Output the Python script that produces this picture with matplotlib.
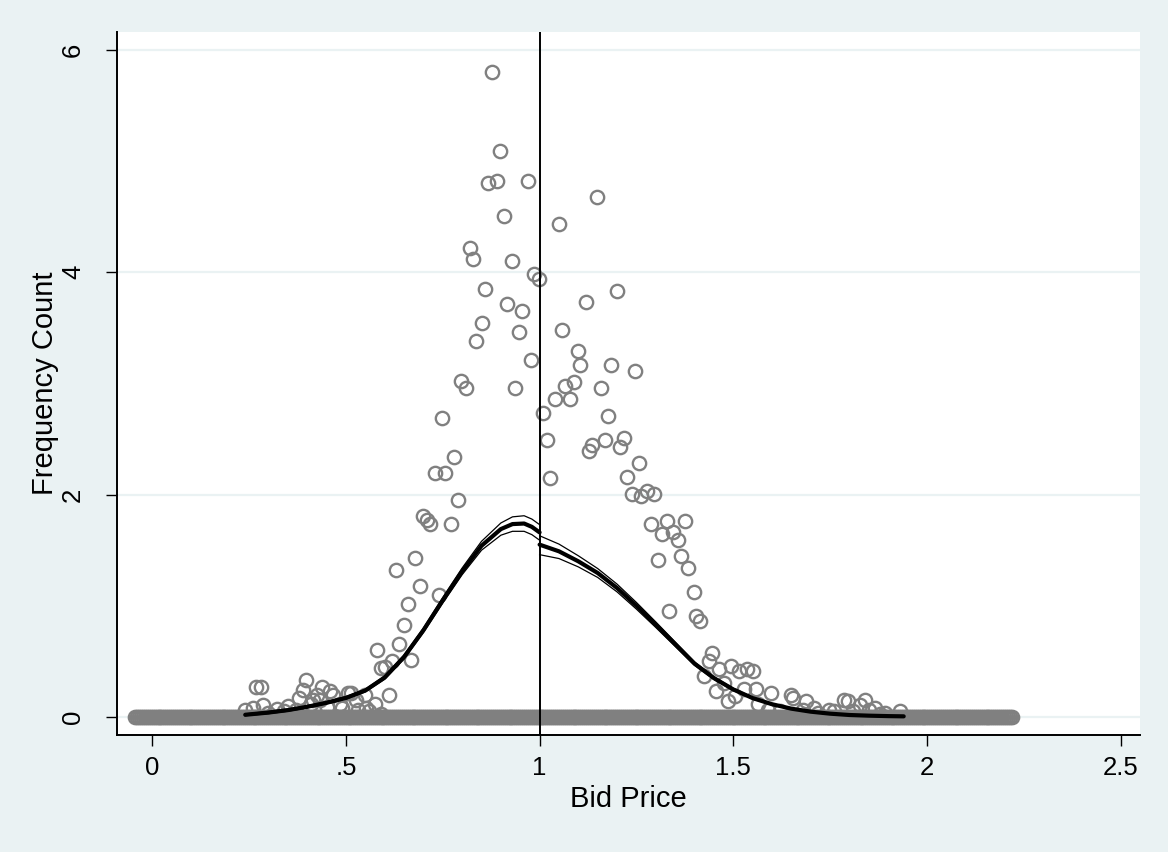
import numpy as np
import matplotlib
matplotlib.use("Agg")
from matplotlib import pyplot as plt

# frequency of bids per bin (non-empty bins)
bid_x = [
    0.876, 0.899, 0.866, 0.890, 0.969, 0.907, 0.819, 0.827, 0.929, 0.986,
    0.999, 0.859, 0.916, 0.954, 0.850, 0.947, 0.836, 0.978, 0.797, 0.810,
    0.937, 0.747, 0.778, 0.729, 0.757, 0.789, 0.699, 0.709, 0.718, 0.770,
    0.679, 0.628, 0.692, 0.740, 0.661, 0.650, 0.637, 0.580, 0.669, 0.620,
    0.590, 0.600, 0.611, 0.398, 0.269, 0.280, 0.287, 0.239, 0.261, 0.323,
    0.351, 0.379, 0.390, 0.415, 0.424, 0.437, 0.458, 0.467, 0.484, 0.505,
    0.512, 0.527, 0.548, 0.553, 0.574, 0.411, 0.433, 0.300, 0.340, 0.370,
    0.450, 0.490, 0.530, 0.560, 0.590,
    1.009, 1.018, 1.026, 1.039, 1.049, 1.057, 1.066, 1.079, 1.089, 1.098,
    1.105, 1.119, 1.128, 1.136, 1.147, 1.159, 1.169, 1.177, 1.185, 1.199,
    1.208, 1.217, 1.226, 1.239, 1.247, 1.256, 1.262, 1.278, 1.295, 1.288,
    1.328, 1.375, 1.317, 1.345, 1.358, 1.305, 1.366, 1.384, 1.398, 1.335,
    1.405, 1.415, 1.445, 1.437, 1.424, 1.462, 1.495, 1.514, 1.535, 1.550,
    1.477, 1.456, 1.486, 1.527, 1.558, 1.598, 1.505, 1.565, 1.649, 1.654,
    1.687, 1.708, 1.748, 1.787, 1.795, 1.841, 1.827, 1.866, 1.891, 1.930,
    1.590, 1.620, 1.680, 1.720, 1.760, 1.810, 1.850, 1.880,
]
bid_freq = [
    5.80, 5.09, 4.80, 4.82, 4.82, 4.51, 4.22, 4.12, 4.10, 3.98,
    3.94, 3.85, 3.71, 3.65, 3.54, 3.46, 3.38, 3.21, 3.02, 2.96,
    2.96, 2.69, 2.34, 2.19, 2.19, 1.95, 1.81, 1.77, 1.74, 1.74,
    1.43, 1.32, 1.18, 1.10, 1.02, 0.83, 0.66, 0.60, 0.51, 0.50,
    0.44, 0.45, 0.20, 0.33, 0.27, 0.27, 0.11, 0.06, 0.08, 0.07,
    0.10, 0.17, 0.24, 0.15, 0.20, 0.27, 0.23, 0.20, 0.12, 0.22,
    0.22, 0.15, 0.20, 0.08, 0.12, 0.12, 0.15, 0.04, 0.05, 0.06,
    0.09, 0.08, 0.06, 0.05, 0.03,
    2.73, 2.49, 2.15, 2.86, 4.43, 3.48, 2.98, 2.86, 3.01, 3.29,
    3.17, 3.73, 2.39, 2.45, 4.68, 2.96, 2.49, 2.71, 3.17, 3.83,
    2.43, 2.51, 2.16, 2.01, 3.11, 2.28, 1.99, 2.03, 2.01, 1.74,
    1.76, 1.76, 1.65, 1.66, 1.59, 1.41, 1.45, 1.34, 1.12, 0.95,
    0.91, 0.86, 0.58, 0.50, 0.37, 0.43, 0.46, 0.41, 0.43, 0.41,
    0.31, 0.23, 0.14, 0.25, 0.25, 0.22, 0.19, 0.12, 0.20, 0.17,
    0.14, 0.08, 0.06, 0.15, 0.14, 0.15, 0.11, 0.08, 0.04, 0.05,
    0.06, 0.05, 0.06, 0.04, 0.05, 0.05, 0.06, 0.03,
]

# empty bins lie on zero across the whole support
empty_lo, empty_hi, n_bins = -0.044, 2.219, 453

# fitted density left of the cutoff, with confidence band
left_x = [0.24, 0.30, 0.35, 0.40, 0.45, 0.50, 0.55, 0.60, 0.65, 0.70,
          0.75, 0.80, 0.85, 0.90, 0.93, 0.96, 0.98, 1.00]
left_fit = [0.020, 0.040, 0.062, 0.092, 0.128, 0.172, 0.238, 0.355, 0.540, 0.780,
            1.050, 1.310, 1.540, 1.690, 1.735, 1.740, 1.710, 1.660]
left_hi = [0.028, 0.050, 0.072, 0.102, 0.138, 0.183, 0.250, 0.370, 0.558, 0.800,
           1.075, 1.340, 1.580, 1.745, 1.800, 1.810, 1.780, 1.730]
left_lo = [0.012, 0.030, 0.052, 0.082, 0.118, 0.161, 0.226, 0.340, 0.522, 0.760,
           1.025, 1.280, 1.500, 1.635, 1.670, 1.670, 1.640, 1.590]

# fitted density right of the cutoff, with confidence band
right_x = [1.00, 1.05, 1.10, 1.15, 1.20, 1.25, 1.30, 1.35, 1.40, 1.45,
           1.50, 1.55, 1.60, 1.65, 1.70, 1.75, 1.80, 1.85, 1.90, 1.94]
right_fit = [1.550, 1.490, 1.400, 1.295, 1.160, 1.000, 0.830, 0.655, 0.480, 0.350,
             0.248, 0.170, 0.115, 0.075, 0.048, 0.030, 0.018, 0.012, 0.008, 0.006]
right_hi = [1.630, 1.555, 1.450, 1.335, 1.195, 1.030, 0.855, 0.675, 0.495, 0.362,
            0.258, 0.177, 0.121, 0.080, 0.052, 0.033, 0.021, 0.015, 0.011, 0.009]
right_lo = [1.460, 1.425, 1.350, 1.255, 1.125, 0.970, 0.805, 0.635, 0.465, 0.338,
            0.238, 0.163, 0.109, 0.070, 0.044, 0.027, 0.015, 0.009, 0.005, 0.003]

cutoff = 1.0
x_ticks = [0, 0.5, 1, 1.5, 2, 2.5]
x_tick_labels = ["0", ".5", "1", "1.5", "2", "2.5"]
y_ticks = [0, 2, 4, 6]
y_tick_labels = ["0", "2", "4", "6"]

bg = "#EAF2F3"
grey = "#808080"

plt.rcParams["font.family"] = ["Liberation Sans", "DejaVu Sans"]

fig = plt.figure(figsize=(11.68, 8.52), dpi=100, facecolor=bg)
ax = fig.add_axes([0.1002, 0.1373, 0.8758, 0.8251])
ax.set_facecolor("white")

empty_x = np.linspace(empty_lo, empty_hi, n_bins)
ax.plot(empty_x, np.zeros(n_bins), linestyle="none", marker="o", ms=9.6,
        mfc="none", mec=grey, mew=1.7, zorder=3)
ax.plot(bid_x, bid_freq, linestyle="none", marker="o", ms=9.6,
        mfc="none", mec=grey, mew=1.7, zorder=3)

for xs, fit, hi, lo in [(left_x, left_fit, left_hi, left_lo),
                        (right_x, right_fit, right_hi, right_lo)]:
    ax.plot(xs, hi, color="black", lw=0.9, zorder=4)
    ax.plot(xs, lo, color="black", lw=0.9, zorder=4)
    ax.plot(xs, fit, color="black", lw=3.0, zorder=5, solid_capstyle="round")

ax.axvline(cutoff, color="black", lw=1.4, zorder=6)

ax.set_xlim(-0.091, 2.550)
ax.set_ylim(-0.162, 6.160)
ax.set_xticks(x_ticks)
ax.set_xticklabels(x_tick_labels)
ax.set_yticks(y_ticks)
ax.set_yticklabels(y_tick_labels, rotation=90, va="center")

ax.yaxis.grid(True, color=bg, lw=1.6, zorder=0)
ax.set_axisbelow(True)
for side in ["top", "right"]:
    ax.spines[side].set_visible(False)
for side in ["left", "bottom"]:
    ax.spines[side].set_linewidth(1.4)
    ax.spines[side].set_color("black")

ax.tick_params(axis="both", direction="out", length=8, width=1.0, labelsize=18.5)
ax.tick_params(axis="x", pad=7)
ax.tick_params(axis="y", pad=15)

ax.set_xlabel("Bid Price", fontsize=21, labelpad=4)
ax.set_ylabel("Frequency Count", fontsize=21)
ax.yaxis.set_label_coords(-0.057, 0.5)

fig.savefig("out.png", dpi=100, facecolor=bg)
